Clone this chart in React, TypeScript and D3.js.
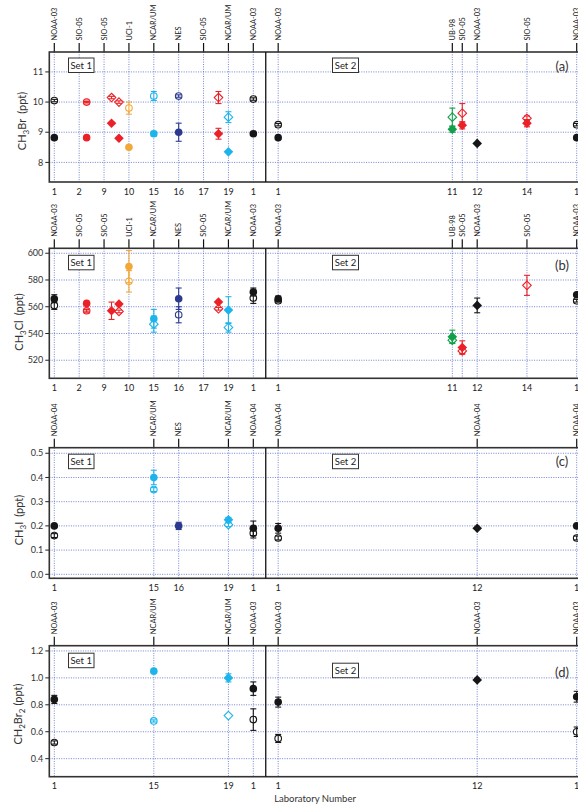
import React from 'react';
import * as d3 from 'd3';

const W = 578;
const H = 809;

// ---------- lab positions (sequence index along the x axis) & labels ----------
const posAB = [0, 1, 2, 3, 4, 5, 6, 7, 8, 9, 16, 16.4, 17, 19, 21];
const namesAB = ['NOAA-03', 'SIO-05', 'SIO-05', 'UCI-1', 'NCAR/UM', 'NES', 'SIO-05', 'NCAR/UM', 'NOAA-03', 'NOAA-03', 'UB-98', 'SIO-05', 'NOAA-03', 'SIO-05', 'NOAA-03'];
const numsAB = ['1', '2', '9', '10', '15', '16', '17', '19', '1', '1', '11', '', '12', '14', '1'];

const posC = [0, 4, 5, 7, 8, 9, 17, 21];
const namesC = ['NOAA-04', 'NCAR/UM', 'NES', 'NCAR/UM', 'NOAA-04', 'NOAA-04', 'NOAA-04', 'NOAA-04'];
const numsC = ['1', '15', '16', '19', '1', '1', '12', '1'];

const posD = [0, 4, 7, 8, 9, 17, 21];
const namesD = ['NOAA-03', 'NCAR/UM', 'NCAR/UM', 'NOAA-03', 'NOAA-03', 'NOAA-03', 'NOAA-03'];
const numsD = ['1', '15', '19', '1', '1', '12', '1'];

// ---------- measurements: [position, value, uncertainty, lab group, marker kind] ----------
type Pt = [number, number, number, string, string];

// CH3Br: cylinder A (filled) and cylinder B (open)
const brA: Pt[] = [
  [0, 8.82, 0, 'NOAA', 'c'], [1.3, 8.82, 0, 'SIO', 'c'], [2.3, 9.3, 0, 'SIO', 'd'], [2.6, 8.8, 0, 'SIO', 'd'],
  [3, 8.5, 0, 'UCI', 'c'], [4, 8.95, 0.08, 'NCAR', 'c'], [5, 9.0, 0.3, 'NES', 'c'], [6.6, 8.95, 0.18, 'SIO', 'd'],
  [7, 8.35, 0, 'NCAR', 'd'], [8, 8.95, 0.05, 'NOAA', 'c'], [9, 8.82, 0, 'NOAA', 'c'], [16, 9.1, 0.1, 'UB', 'd'],
  [16.4, 9.23, 0.12, 'SIO', 'd'], [17, 8.63, 0, 'NOAA', 'd'], [19, 9.3, 0.12, 'SIO', 'd'], [21, 8.82, 0, 'NOAA', 'c'],
];
const brB: Pt[] = [
  [0, 10.05, 0.04, 'NOAA', 'c'], [1.3, 10.0, 0.02, 'SIO', 'c'], [2.3, 10.15, 0.04, 'SIO', 'd'], [2.6, 10.0, 0.04, 'SIO', 'd'],
  [3, 9.8, 0.2, 'UCI', 'c'], [4, 10.2, 0.15, 'NCAR', 'c'], [5, 10.2, 0.04, 'NES', 'c'], [6.6, 10.15, 0.2, 'SIO', 'd'],
  [7, 9.5, 0.18, 'NCAR', 'd'], [8, 10.1, 0.04, 'NOAA', 'c'], [9, 9.25, 0.04, 'NOAA', 'c'], [16, 9.5, 0.3, 'UB', 'd'],
  [16.4, 9.63, 0.32, 'SIO', 'd'], [19, 9.46, 0.08, 'SIO', 'd'], [21, 9.25, 0.04, 'NOAA', 'c'],
];

// CH3Cl
const clA: Pt[] = [
  [0, 566, 3, 'NOAA', 'c'], [1.3, 562.5, 0, 'SIO', 'c'], [2.3, 557, 6.5, 'SIO', 'd'], [2.6, 562, 0, 'SIO', 'd'],
  [3, 590, 12, 'UCI', 'c'], [4, 551, 7, 'NCAR', 'c'], [5, 566, 8, 'NES', 'c'], [6.6, 563.5, 0, 'SIO', 'd'],
  [7, 557.5, 10, 'NCAR', 'd'], [8, 571, 3, 'NOAA', 'c'], [9, 566, 2, 'NOAA', 'c'], [16, 537.5, 5, 'UB', 'd'],
  [16.4, 529.5, 5, 'SIO', 'd'], [17, 561, 5.5, 'NOAA', 'd'], [21, 569, 0, 'NOAA', 'c'],
];
const clB: Pt[] = [
  [0, 561, 3, 'NOAA', 'c'], [1.3, 557, 1, 'SIO', 'c'], [2.6, 556.5, 1, 'SIO', 'd'],
  [3, 579, 8, 'UCI', 'c'], [4, 547, 6, 'NCAR', 'd'], [5, 554, 6, 'NES', 'c'], [6.6, 558.5, 1, 'SIO', 'd'],
  [7, 544.5, 3.5, 'NCAR', 'd'], [8, 566.5, 4, 'NOAA', 'c'], [9, 564.5, 1, 'NOAA', 'c'], [16, 535, 2, 'UB', 'd'],
  [16.4, 527, 2, 'SIO', 'd'], [19, 576, 7.5, 'SIO', 'd'], [21, 564.5, 1, 'NOAA', 'c'],
];

// CH3I
const iA: Pt[] = [
  [0, 0.2, 0, 'NOAA', 'c'], [4, 0.4, 0.03, 'NCAR', 'c'], [5, 0.2, 0.015, 'NES', 'c'], [7, 0.225, 0.01, 'NCAR', 'd'],
  [8, 0.19, 0.03, 'NOAA', 'c'], [9, 0.19, 0.02, 'NOAA', 'c'], [17, 0.19, 0, 'NOAA', 'd'], [21, 0.2, 0, 'NOAA', 'c'],
];
const iB: Pt[] = [
  [0, 0.16, 0.008, 'NOAA', 'c'], [4, 0.35, 0.008, 'NCAR', 'c'], [7, 0.205, 0.008, 'NCAR', 'd'],
  [8, 0.17, 0.02, 'NOAA', 'c'], [9, 0.15, 0.008, 'NOAA', 'c'], [21, 0.15, 0.008, 'NOAA', 'c'],
];

// CH2Br2
const br2A: Pt[] = [
  [0, 0.84, 0.03, 'NOAA', 'c'], [4, 1.05, 0, 'NCAR', 'c'], [7, 1.0, 0.03, 'NCAR', 'd'], [8, 0.92, 0.05, 'NOAA', 'c'],
  [9, 0.82, 0.037, 'NOAA', 'c'], [17, 0.985, 0, 'NOAA', 'd'], [21, 0.86, 0.04, 'NOAA', 'c'],
];
const br2B: Pt[] = [
  [0, 0.52, 0.012, 'NOAA', 'c'], [4, 0.68, 0.008, 'NCAR', 'c'], [7, 0.72, 0, 'NCAR', 'd'], [8, 0.69, 0.08, 'NOAA', 'c'],
  [9, 0.55, 0.03, 'NOAA', 'c'], [21, 0.6, 0.035, 'NOAA', 'c'],
];

const ticksA = [8, 9, 10, 11];
const ticksB = [520, 540, 560, 580, 600];
const ticksC = [0.0, 0.1, 0.2, 0.3, 0.4, 0.5];
const ticksD = [0.4, 0.6, 0.8, 1.0, 1.2];

const COLORS: Record<string, string> = {
  NOAA: '#161616',
  SIO: '#ec2128',
  UCI: '#f2a838',
  NCAR: '#1db4ec',
  NES: '#2b3a8f',
  UB: '#11a04a',
};
const OPEN_FILL: Record<string, string> = { SIO_c: '#f6a0a0' };

const FONT = 'Lato, "DejaVu Sans", sans-serif';
const GRID = '#4f63c6';
const FRAME = '#333';
const LEFT = 49.3;
const RIGHT = 582;

const x = d3.scaleLinear().domain([0, 21]).range([54.3, 576.7]);

type PanelCfg = {
  top: number;
  bottom: number;
  domain: [number, number];
  ticks: number[];
  fmt: (v: number) => string;
  pos: number[];
  names: string[];
  nums: string[];
  A: Pt[];
  B: Pt[];
  letter: string;
  letterDy: number;
  set1Dy: number;
  set2Dy: number;
  labelY: number;
  labelX: number;
  label: React.ReactNode;
};

function Panel({ c }: { c: PanelCfg }) {
  const y = d3.scaleLinear().domain(c.domain).range([c.bottom, c.top]);
  const renderPt = (p: Pt, open: boolean, key: string) => {
    const [pos, v, err, lab, kind] = p;
    const col = COLORS[lab];
    const cx = x(pos);
    const cy = y(v);
    const fill = open ? (OPEN_FILL[lab + '_' + kind] || '#fff') : col;
    const sw = open ? 1.1 : 0;
    let shape;
    if (kind === 'c') {
      const r = open ? 3.3 : 3.8;
      shape = <circle cx={cx} cy={cy} r={r} fill={fill} stroke={col} strokeWidth={sw} />;
    } else {
      const h = open ? 4.3 : 4.8;
      const d = `M${cx},${cy - h}L${cx + h},${cy}L${cx},${cy + h}L${cx - h},${cy}Z`;
      shape = <path d={d} fill={fill} stroke={col} strokeWidth={sw} />;
    }
    let eb = null;
    if (err > 0) {
      const y1 = y(v + err);
      const y2 = y(v - err);
      eb = (
        <g stroke={col} strokeWidth={1.1}>
          <line x1={cx} x2={cx} y1={y1} y2={y2} />
          <line x1={cx - 3} x2={cx + 3} y1={y1} y2={y1} />
          <line x1={cx - 3} x2={cx + 3} y1={y2} y2={y2} />
        </g>
      );
    }
    return (
      <g key={key}>
        {shape}
        {eb}
      </g>
    );
  };

  return (
    <g>
      {/* grid */}
      {c.ticks.map((t) => (
        <line key={'hg' + t} x1={LEFT} x2={RIGHT} y1={y(t)} y2={y(t)} stroke={GRID} strokeWidth={0.8} strokeDasharray="1 1.4" />
      ))}
      {c.pos.map((p, i) => (
        <line key={'vg' + i} x1={x(p)} x2={x(p)} y1={c.top} y2={c.bottom} stroke={GRID} strokeWidth={0.8} strokeDasharray="1 1.4" />
      ))}
      {/* top ticks + rotated lab names + lab numbers */}
      {c.pos.map((p, i) => (
        <g key={'tt' + i}>
          <line x1={x(p)} x2={x(p)} y1={c.top - 9} y2={c.top} stroke="#111" strokeWidth={1.2} />
          <text
            transform={`translate(${x(p) + 2.6},${c.top - 11.5}) rotate(-90)`}
            fontSize={7.4}
            fontFamily={FONT}
            fill="#222"
          >
            {c.names[i]}
          </text>
          {c.nums[i] !== '' && (
            <text x={x(p)} y={c.bottom + 12.5} fontSize={9} fontFamily={FONT} fill="#222" textAnchor="middle">
              {c.nums[i]}
            </text>
          )}
        </g>
      ))}
      {/* y ticks */}
      {c.ticks.map((t) => (
        <g key={'yt' + t}>
          <line x1={LEFT - 4} x2={LEFT} y1={y(t)} y2={y(t)} stroke="#222" strokeWidth={1} />
          <text x={LEFT - 6} y={y(t) + 3.2} fontSize={9} fontFamily={FONT} fill="#333" textAnchor="end">
            {c.fmt(t)}
          </text>
        </g>
      ))}
      {/* frame */}
      <rect x={LEFT} y={c.top} width={RIGHT - LEFT} height={c.bottom - c.top} fill="none" stroke={FRAME} strokeWidth={1.6} />
      <line x1={x(8.5)} x2={x(8.5)} y1={c.top} y2={c.bottom} stroke="#111" strokeWidth={1.3} />
      {/* set boxes */}
      <g fontFamily={FONT} fontSize={9.5} fill="#222">
        <rect x={68.5} y={c.top + c.set1Dy} width={25.5} height={14.5} fill="#fff" stroke="#333" strokeWidth={1} />
        <text x={81.2} y={c.top + c.set1Dy + 10.6} textAnchor="middle">Set 1</text>
        <rect x={332.5} y={c.top + c.set2Dy} width={26} height={14.5} fill="#fff" stroke="#333" strokeWidth={1} />
        <text x={345.5} y={c.top + c.set2Dy + 10.6} textAnchor="middle">Set 2</text>
      </g>
      <text x={562} y={c.top + c.letterDy + 4.5} fontSize={13} fontFamily={FONT} fill="#333" textAnchor="middle">
        {c.letter}
      </text>
      {/* y label */}
      <text
        transform={`translate(${c.labelX},${c.labelY}) rotate(-90)`}
        fontSize={11}
        fontFamily={FONT}
        fill="#333"
        textAnchor="middle"
      >
        {c.label}
      </text>
      {/* points: open (cylinder B) then filled (cylinder A) */}
      {c.B.map((p, i) => renderPt(p, true, 'b' + i))}
      {c.A.map((p, i) => renderPt(p, false, 'a' + i))}
    </g>
  );
}

export default function App() {
  const panels: PanelCfg[] = [
    {
      top: 52, bottom: 182, domain: [7.35, 11.66], ticks: ticksA, fmt: (v) => String(v),
      pos: posAB, names: namesAB, nums: numsAB, A: brA, B: brB,
      letter: '(a)', letterDy: 14, set1Dy: 6, set2Dy: 6, labelY: 121, labelX: 26,
      label: (<>CH<tspan dy={2.5} fontSize={8}>3</tspan><tspan dy={-2.5}>Br</tspan><tspan dx={5}>(ppt)</tspan></>),
    },
    {
      top: 248.3, bottom: 378.3, domain: [506.5, 603.7], ticks: ticksB, fmt: (v) => String(v),
      pos: posAB, names: namesAB, nums: numsAB, A: clA, B: clB,
      letter: '(b)', letterDy: 17, set1Dy: 7, set2Dy: 7, labelY: 322, labelX: 23,
      label: (<>CH<tspan dy={2.5} fontSize={8}>3</tspan><tspan dy={-2.5}>Cl</tspan><tspan dx={5}>(ppt)</tspan></>),
    },
    {
      top: 447.7, bottom: 578.3, domain: [-0.0165, 0.523], ticks: ticksC, fmt: (v) => v.toFixed(1),
      pos: posC, names: namesC, nums: numsC, A: iA, B: iB,
      letter: '(c)', letterDy: 14, set1Dy: 6.5, set2Dy: 6.5, labelY: 520, labelX: 23,
      label: (<>CH<tspan dy={2.5} fontSize={8}>3</tspan><tspan dy={-2.5}>I</tspan><tspan dx={5}>(ppt)</tspan></>),
    },
    {
      top: 645.7, bottom: 776.7, domain: [0.266, 1.239], ticks: ticksD, fmt: (v) => v.toFixed(1),
      pos: posD, names: namesD, nums: numsD, A: br2A, B: br2B,
      letter: '(d)', letterDy: 27, set1Dy: 7.5, set2Dy: 17.5, labelY: 714, labelX: 22,
      label: (<>CH<tspan dy={2.5} fontSize={8}>2</tspan><tspan dy={-2.5}>Br</tspan><tspan dy={2.5} fontSize={8}>2</tspan><tspan dy={-2.5} dx={3}>(ppt)</tspan></>),
    },
  ];
  return (
    <div style={{ position: 'absolute', left: 0, top: 0, width: W, height: H, background: '#fff' }}>
      <svg width={W} height={H} viewBox={`0 0 ${W} ${H}`} style={{ display: 'block' }}>
        <rect x={0} y={0} width={W} height={H} fill="#fff" />
        {panels.map((p, i) => (
          <Panel key={i} c={p} />
        ))}
        <text x={315} y={802} fontSize={9.5} fontFamily={FONT} fill="#333" textAnchor="middle">
          Laboratory Number
        </text>
      </svg>
    </div>
  );
}
